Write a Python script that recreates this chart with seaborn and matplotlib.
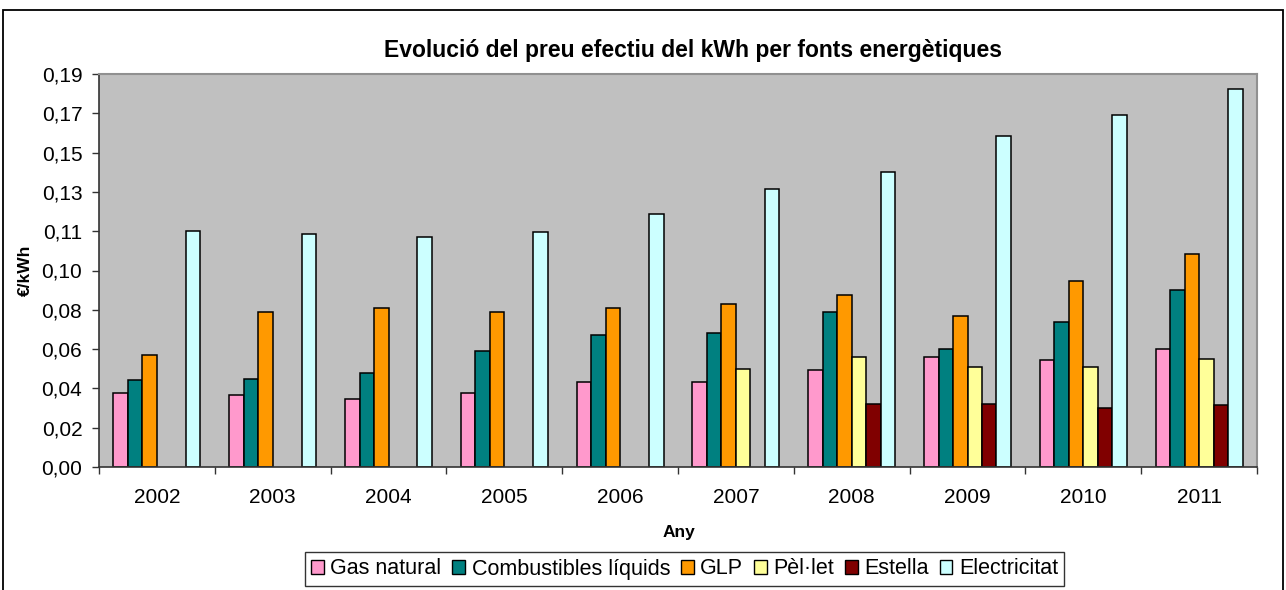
import numpy as np
import pandas as pd
import matplotlib
matplotlib.use("Agg")
import matplotlib.pyplot as plt
from matplotlib.patches import Rectangle, Patch
import seaborn as sns

years = ["2002", "2003", "2004", "2005", "2006", "2007", "2008", "2009", "2010", "2011"]
gas_natural = [0.036, 0.035, 0.033, 0.036, 0.041, 0.041, 0.047, 0.053, 0.0515, 0.057]
combustibles = [0.042, 0.0425, 0.0455, 0.056, 0.064, 0.065, 0.075, 0.057, 0.070, 0.0855]
glp = [0.054, 0.075, 0.077, 0.075, 0.077, 0.079, 0.083, 0.073, 0.090, 0.103]
pellet = [None, None, None, None, None, 0.0475, 0.053, 0.0485, 0.0485, 0.052]
estella = [None, None, None, None, None, None, 0.0306, 0.0306, 0.0283, 0.030]
electricitat = [0.114, 0.1127, 0.111, 0.1135, 0.1223, 0.1343, 0.1424, 0.160, 0.170, 0.1826]

series_names = ["Gas natural", "Combustibles líquids", "GLP", "Pèl·let", "Estella", "Electricitat"]
series_values = [gas_natural, combustibles, glp, pellet, estella, electricitat]
colors = ["#FF99CC", "#008080", "#FF9900", "#FFFF99", "#800000", "#CCFFFF"]

ytick_values = np.linspace(0, 0.19, 11)
ytick_labels = ["0,00", "0,02", "0,04", "0,06", "0,08", "0,10", "0,11", "0,13", "0,15", "0,17", "0,19"]

title = "Evolució del preu efectiu del kWh per fonts energètiques"
xlabel = "Any"
ylabel = "€/kWh"

rows = []
for name, vals in zip(series_names, series_values):
    for y, v in zip(years, vals):
        rows.append({"Any": y, "Font": name, "Valor": np.nan if v is None else v})
df = pd.DataFrame(rows)

sns.set_theme(style="white")
plt.rcParams["font.family"] = ["Liberation Sans", "DejaVu Sans"]
plt.rcParams["text.color"] = "black"
plt.rcParams["axes.labelcolor"] = "black"
plt.rcParams["xtick.color"] = "black"
plt.rcParams["ytick.color"] = "black"

W, H = 1286, 590
fig = plt.figure(figsize=(W / 100, H / 100), dpi=100)
ax = fig.add_axes([99 / W, 1 - 467 / H, (1257 - 99) / W, (467 - 74) / H])
ax.set_facecolor("#C0C0C0")

sns.barplot(data=df, x="Any", y="Valor", hue="Font", hue_order=series_names,
            order=years, palette=colors, width=0.75, dodge=True,
            edgecolor="black", linewidth=1.1, errorbar=None, legend=False,
            saturation=1, ax=ax)

ax.set_xlim(-0.5, len(years) - 0.5)
ax.set_ylim(0, 0.19)
ax.set_yticks(ytick_values)
ax.set_yticklabels(ytick_labels, fontsize=15)
ax.tick_params(axis="y", direction="out", length=5, width=1, color="#333333",
               labelcolor="black", pad=7, left=True)
ax.set_xticks(range(len(years)))
ax.set_xticklabels(years, fontsize=15)
ax.tick_params(axis="x", which="major", length=0, pad=15, labelcolor="black")
ax.set_xticks(np.arange(len(years) + 1) - 0.5, minor=True)
ax.tick_params(axis="x", which="minor", direction="out", length=5, width=1, color="#333333", bottom=True)

for side in ["left", "bottom"]:
    ax.spines[side].set_color("#333333")
    ax.spines[side].set_linewidth(1.2)
for side in ["top", "right"]:
    ax.spines[side].set_color("#909090")
    ax.spines[side].set_linewidth(1.5)

ax.set_xlabel("")
ax.set_ylabel("")
fig.text(679 / W, 1 - 533 / H, xlabel, ha="center", va="center", fontsize=12.5,
         fontweight="bold", color="black")
fig.text(25 / W, 1 - 270 / H, ylabel, ha="center", va="center", rotation=90,
         fontsize=12.5, fontweight="bold", color="black")

fig.text(693 / W, 1 - 57 / H, title, ha="center", va="baseline",
         fontsize=16.5, fontweight="bold", color="black")

handles = [Patch(facecolor=c, edgecolor="black", linewidth=1) for c in colors]
leg = fig.legend(handles, series_names, loc="center", bbox_to_anchor=(684.5 / W, 1 - 569 / H),
                 ncol=6, fontsize=15.5, frameon=True, fancybox=False, edgecolor="black",
                 handlelength=0.6, handleheight=0.6, handletextpad=0.3, columnspacing=0.5,
                 borderpad=0.3, borderaxespad=0, labelcolor="black")
leg.get_frame().set_linewidth(1.0)

fig.patches.append(Rectangle((3 / W, -0.1), (1283 - 3) / W, 1.1 - 10 / H,
                             transform=fig.transFigure, fill=False, edgecolor="black",
                             linewidth=1.3))

fig.savefig("out.png", dpi=100, facecolor="white")
